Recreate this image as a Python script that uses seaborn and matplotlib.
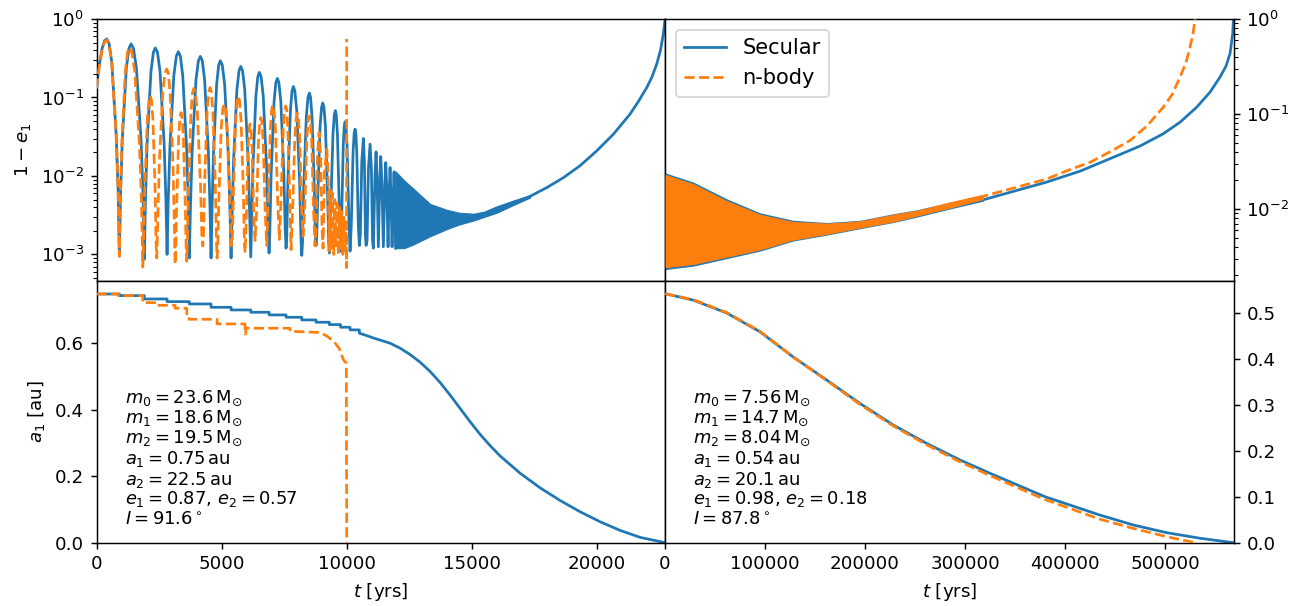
import matplotlib
matplotlib.use("Agg")
import matplotlib.pyplot as plt
import seaborn as sns
import numpy as np

C_SEC = "#1f77b4"
C_NB = "#ff7f0e"
DPI = 131.2

# ---------------- data ----------------
# top-left: 1-e1 vs t, secular run, individual cycles as (t, value)
tl_sec = [
    (0, 0.13), (100, 0.25), (220, 0.42), (320, 0.53), (408, 0.557),
    (499, 0.49), (610, 0.28), (786, 0.033), (862, 0.0067), (912, 0.00095),
    (959, 0.0058), (1029, 0.029), (1193, 0.24), (1296, 0.423), (1380, 0.481),
    (1476, 0.423), (1593, 0.24), (1779, 0.029), (1859, 0.0058), (1912, 0.00087),
    (1956, 0.0051), (2022, 0.026), (2176, 0.214), (2273, 0.377), (2352, 0.428),
    (2436, 0.377), (2539, 0.214), (2703, 0.026), (2773, 0.0051), (2820, 0.0010),
    (2865, 0.0046), (2933, 0.023), (3091, 0.19), (3191, 0.337), (3272, 0.383),
    (3351, 0.337), (3448, 0.19), (3602, 0.023), (3668, 0.0046), (3712, 0.0009),
    (3756, 0.004), (3822, 0.020), (3976, 0.167), (4073, 0.294), (4152, 0.334),
    (4229, 0.294), (4323, 0.167), (4473, 0.020), (4537, 0.004), (4580, 0.0009),
    (4617, 0.0035), (4673, 0.018), (4803, 0.147), (4885, 0.259), (4952, 0.294),
    (5029, 0.259), (5123, 0.147), (5273, 0.018), (5337, 0.0035), (5380, 0.0009),
    (5419, 0.003), (5477, 0.015), (5613, 0.125), (5698, 0.219), (5768, 0.249),
    (5840, 0.219), (5928, 0.125), (6068, 0.015), (6128, 0.003), (6168, 0.00093),
    (6202, 0.0025), (6254, 0.0125), (6374, 0.105), (6450, 0.184), (6512, 0.209),
    (6582, 0.184), (6667, 0.105), (6803, 0.0125), (6861, 0.0025), (6900, 0.00104),
    (6933, 0.0021), (6983, 0.0105), (7099, 0.088), (7172, 0.154), (7232, 0.175),
    (7295, 0.154), (7371, 0.088), (7493, 0.0105), (7545, 0.0021), (7580, 0.0012),
    (7609, 0.0017), (7653, 0.0083), (7755, 0.069), (7819, 0.121), (7872, 0.138),
    (7932, 0.121), (8006, 0.069), (8124, 0.0083), (8174, 0.0017), (8208, 0.00097),
    (8238, 0.0014), (8284, 0.0068), (8390, 0.057), (8457, 0.100), (8512, 0.114),
    (8560, 0.100), (8619, 0.057), (8713, 0.0068), (8753, 0.0017), (8780, 0.0013),
    (8807, 0.0017), (8847, 0.0051), (8941, 0.043), (9000, 0.075), (9048, 0.085),
    (9096, 0.075), (9154, 0.043), (9246, 0.0051), (9286, 0.0014), (9312, 0.00104),
    (9372, 0.0041), (9456, 0.034), (9509, 0.060), (9552, 0.068),
    (9589, 0.060), (9635, 0.034), (9708, 0.0041), (9760, 0.0011),
    (9805, 0.0029), (9868, 0.0245), (9908, 0.043), (9940, 0.049),
    (9976, 0.043), (10020, 0.0245), (10090, 0.0029), (10140, 0.0011),
    (10190, 0.0024), (10260, 0.020), (10304, 0.035), (10340, 0.0395),
    (10371, 0.035), (10409, 0.020), (10469, 0.0024), (10512, 0.0013),
    (10552, 0.0018), (10608, 0.015), (10672, 0.030),
    (10715, 0.015), (10753, 0.0018), (10780, 0.0013),
    (10820, 0.0015), (10876, 0.0127), (10940, 0.0254),
    (10993, 0.0127), (11039, 0.0015), (11072, 0.0012),
    (11137, 0.0101), (11180, 0.0203), (11217, 0.0101), (11272, 0.00125),
    (11330, 0.0088), (11368, 0.0177), (11410, 0.0088), (11472, 0.00125),
    (11530, 0.0074), (11568, 0.0148), (11605, 0.0074), (11660, 0.00125),
    (11708, 0.0064), (11740, 0.0128), (11772, 0.0064), (11820, 0.00125),
    (11868, 0.0056), (11900, 0.0113), (11924, 0.0056), (11960, 0.0012),
]
# dense oscillation band of the secular run (envelopes)
tl_band_t = [11950, 12300, 12672, 13340, 14008, 14500, 15072, 15500, 16008, 16700, 17340]
tl_band_hi = [0.0115, 0.0088, 0.0069, 0.0044, 0.0037, 0.0034, 0.0033, 0.0035, 0.0041, 0.0049, 0.0056]
tl_band_lo = [0.0012, 0.0012, 0.00134, 0.0017, 0.0021, 0.0024, 0.0027, 0.0030, 0.0034, 0.0043, 0.0053]
# smooth tail of the secular run
tl_tail_t = [16700, 17340, 18008, 18672, 19340, 20008, 20672, 21340, 21674, 22008, 22208,
             22408, 22558, 22672, 22740]
tl_tail_v = [0.0046, 0.0055, 0.0071, 0.0095, 0.0135, 0.0209, 0.034, 0.0614, 0.089, 0.134, 0.18,
             0.267, 0.40, 0.645, 1.0]

# top-left: n-body run
tl_nb = [
    (0, 0.13), (100, 0.24), (220, 0.40), (320, 0.51), (408, 0.54),
    (499, 0.475), (610, 0.27), (786, 0.032), (862, 0.0065), (912, 0.00095),
    (952, 0.0052), (1012, 0.026), (1152, 0.218), (1240, 0.383), (1312, 0.435),
    (1408, 0.383), (1526, 0.218), (1714, 0.026), (1794, 0.0052), (1848, 0.00069),
    (1878, 0.0013), (1924, 0.0063), (2030, 0.0525), (2097, 0.092), (2152, 0.105),
    (2198, 0.092), (2254, 0.0525), (2344, 0.0063), (2382, 0.0013), (2408, 0.0009),
    (2448, 0.0028), (2508, 0.0139), (2648, 0.116), (2736, 0.203), (2808, 0.231),
    (2868, 0.203), (2941, 0.116), (3057, 0.0139), (3107, 0.0028), (3140, 0.00075),
    (3164, 0.0010), (3200, 0.0038), (3284, 0.032), (3337, 0.056), (3380, 0.064),
    (3421, 0.056), (3471, 0.032), (3551, 0.0038), (3585, 0.0011), (3608, 0.00082),
    (3636, 0.0016), (3678, 0.0078), (3776, 0.065), (3838, 0.114), (3888, 0.130),
    (3953, 0.114), (4032, 0.065), (4158, 0.0078), (4212, 0.0017), (4248, 0.00128),
    (4277, 0.0017), (4321, 0.008), (4423, 0.067), (4487, 0.118), (4540, 0.134),
    (4590, 0.118), (4652, 0.067), (4750, 0.008), (4792, 0.0016), (4820, 0.0009),
    (4848, 0.0012), (4890, 0.0049), (4988, 0.041), (5050, 0.072), (5100, 0.082),
    (5155, 0.072), (5223, 0.041), (5331, 0.0049), (5377, 0.0017), (5408, 0.00128),
    (5434, 0.0017), (5474, 0.0062), (5566, 0.0515), (5624, 0.091), (5672, 0.103),
    (5720, 0.091), (5779, 0.0515), (5873, 0.0062), (5913, 0.0014), (5940, 0.00105),
    (5990, 0.0028), (6060, 0.023), (6104, 0.040), (6140, 0.046),
    (6176, 0.040), (6220, 0.023), (6290, 0.0028), (6340, 0.0015),
    (6397, 0.0033), (6477, 0.028), (6527, 0.049), (6568, 0.0555),
    (6611, 0.049), (6664, 0.028), (6748, 0.0033), (6808, 0.0013),
    (6868, 0.0048), (6952, 0.040), (7005, 0.070), (7048, 0.080),
    (7096, 0.070), (7154, 0.040), (7246, 0.0048), (7312, 0.00155),
    (7376, 0.0047), (7466, 0.039), (7522, 0.069), (7568, 0.078),
    (7606, 0.069), (7653, 0.039), (7727, 0.0047), (7780, 0.00115),
    (7843, 0.0038), (7931, 0.0315), (7987, 0.055), (8032, 0.063),
    (8073, 0.055), (8123, 0.0315), (8203, 0.0038), (8260, 0.0017),
    (8323, 0.0035), (8411, 0.029), (8467, 0.051), (8512, 0.058),
    (8553, 0.051), (8603, 0.029), (8683, 0.0035), (8740, 0.00128),
    (8780, 0.0021), (8836, 0.018), (8900, 0.0357),
    (8964, 0.018), (9020, 0.0021), (9060, 0.0012),
    (9119, 0.011), (9208, 0.022), (9267, 0.011), (9300, 0.0011),
    (9340, 0.0068), (9390, 0.0012), (9440, 0.006), (9490, 0.0010),
    (9530, 0.005), (9580, 0.0013), (9620, 0.0045), (9670, 0.0010),
    (9710, 0.004), (9760, 0.0012), (9800, 0.0035), (9850, 0.0010),
    (9890, 0.003), (9940, 0.0011), (9970, 0.0025), (10000, 0.00068),
    (10005, 0.557),
]

# top-right: 1-e1 vs t (dense band envelopes, then smooth curves)
tr_band_t = [0, 28300, 61700, 95000, 128300, 161700, 195000, 228300, 251700, 285000, 318300]
tr_sec_hi = [0.0240, 0.0192, 0.0128, 0.0091, 0.0076, 0.0072, 0.0076, 0.0089, 0.0098, 0.0118, 0.0138]
tr_sec_lo = [0.0023, 0.0025, 0.0030, 0.0036, 0.0046, 0.0053, 0.0062, 0.0072, 0.0082, 0.0100, 0.0121]
tr_nb_hi = [0.0232, 0.0185, 0.0123, 0.0088, 0.0074, 0.0071, 0.0075, 0.0088, 0.0097, 0.0119, 0.0143]
tr_nb_lo = [0.0024, 0.0026, 0.0031, 0.0037, 0.0047, 0.0054, 0.0063, 0.0073, 0.0084, 0.0102, 0.0126]
tr_sec_t = [285000, 318300, 381700, 415000, 448300, 475000, 498300, 515000, 531700, 545000,
            555000, 561000, 565000, 567700, 568300]
tr_sec_v = [0.0105, 0.0125, 0.0192, 0.025, 0.035, 0.046, 0.062, 0.082, 0.118, 0.17,
            0.245, 0.32, 0.434, 0.706, 0.977]
tr_nb_t = [285000, 318300, 381700, 405000, 425000, 445000, 465000, 482000, 498300, 507000,
           515000, 521000, 525000, 528000, 530000]
tr_nb_v = [0.0112, 0.0136, 0.0207, 0.026, 0.031, 0.040, 0.0526, 0.075, 0.118, 0.16,
           0.245, 0.35, 0.509, 0.70, 1.0]

# bottom-left: a1 [au] vs t
bl_sec = [
    (0, 0.748), (912, 0.748), (912, 0.743), (1912, 0.743), (1912, 0.733),
    (2820, 0.733), (2820, 0.725), (3712, 0.725), (3712, 0.718),
    (4580, 0.718), (4580, 0.708), (5380, 0.708), (5380, 0.700),
    (6168, 0.700), (6168, 0.693), (6900, 0.693), (6900, 0.685),
    (7580, 0.685), (7580, 0.678), (8208, 0.678), (8208, 0.670),
    (8780, 0.670), (8780, 0.663), (9312, 0.663), (9312, 0.656),
    (9760, 0.656), (9760, 0.648), (10140, 0.648), (10140, 0.640),
    (10512, 0.640), (10512, 0.630), (10800, 0.623), (11100, 0.615),
    (11400, 0.608), (11740, 0.600), (12140, 0.585), (12540, 0.566),
    (12940, 0.543), (13340, 0.515), (13740, 0.482), (14140, 0.444),
    (14540, 0.404), (14940, 0.364), (15340, 0.326), (15740, 0.292),
    (16140, 0.261), (16940, 0.209), (17740, 0.165), (18540, 0.127),
    (19340, 0.093), (20140, 0.063), (20940, 0.037), (21740, 0.016), (22740, 0.0),
]
bl_nb = [
    (0, 0.748), (873, 0.748), (873, 0.743), (1847, 0.743), (1847, 0.722),
    (2408, 0.722), (2408, 0.714), (3140, 0.714), (3140, 0.705),
    (3608, 0.705), (3608, 0.688), (3700, 0.688), (3700, 0.672),
    (4820, 0.672), (4820, 0.658), (5940, 0.658), (5940, 0.628),
    (5970, 0.628), (5970, 0.645), (7740, 0.645), (7740, 0.636),
    (8940, 0.632), (9200, 0.622), (9473, 0.607), (9700, 0.585),
    (9873, 0.550), (9990, 0.540), (10007, 0.0),
]

# bottom-right: a1 [au] vs t
br_sec_t = [0, 28300, 61700, 95000, 128300, 161700, 195000, 228300, 261700, 295000,
            325000, 380000, 435000, 468300, 501700, 535000, 568300]
br_sec_v = [0.542, 0.528, 0.500, 0.459, 0.404, 0.354, 0.303, 0.256, 0.216, 0.180,
            0.151, 0.100, 0.060, 0.0385, 0.0217, 0.0096, 0.0]
br_nb_t = [0, 28300, 61700, 95000, 128300, 161700, 195000, 228300, 261700, 295000,
           325000, 380000, 435000, 468300, 501700, 530000]
br_nb_v = [0.542, 0.529, 0.501, 0.460, 0.404, 0.353, 0.301, 0.254, 0.213, 0.176,
           0.146, 0.094, 0.051, 0.031, 0.013, 0.0]

left_text = [r"$m_0 = 23.6\,\mathrm{M}_{\odot}$", r"$m_1 = 18.6\,\mathrm{M}_{\odot}$",
             r"$m_2 = 19.5\,\mathrm{M}_{\odot}$", r"$a_1 = 0.75\,\mathrm{au}$",
             r"$a_2 = 22.5\,\mathrm{au}$", r"$e_1 = 0.87$, $e_2 = 0.57$",
             r"$I = 91.6^\circ$"]
right_text = [r"$m_0 = 7.56\,\mathrm{M}_{\odot}$", r"$m_1 = 14.7\,\mathrm{M}_{\odot}$",
              r"$m_2 = 8.04\,\mathrm{M}_{\odot}$", r"$a_1 = 0.54\,\mathrm{au}$",
              r"$a_2 = 20.1\,\mathrm{au}$", r"$e_1 = 0.98$, $e_2 = 0.18$",
              r"$I = 87.8^\circ$"]

# ---------------- drawing ----------------
fig, axes = plt.subplots(2, 2, figsize=(1312 / DPI, 606 / DPI), dpi=DPI)
fig.subplots_adjust(left=0.0736, right=0.9402, top=0.9686, bottom=0.1045,
                    wspace=0, hspace=0)
(ax_tl, ax_tr), (ax_bl, ax_br) = axes


def line(ax, t, v, color, ls="-", label=None, z=2):
    sns.lineplot(x=np.asarray(t, float), y=np.asarray(v, float), ax=ax,
                 color=color, linestyle=ls, linewidth=1.5, estimator=None,
                 sort=False, legend=False, label=label, zorder=z)


def pairs(p):
    a = np.asarray(p, float)
    return a[:, 0], a[:, 1]


# top-left
t, v = pairs(tl_sec)
line(ax_tl, t, v, C_SEC, z=2)
ax_tl.fill_between(tl_band_t, tl_band_lo, tl_band_hi, color=C_SEC, lw=0.6, zorder=2)
line(ax_tl, tl_tail_t, tl_tail_v, C_SEC, z=2)
t, v = pairs(tl_nb)
line(ax_tl, t, v, C_NB, ls="--", z=3)
ax_tl.set_yscale("log")
ax_tl.set_ylim(4.6e-4, 1)
ax_tl.set_xlim(0, 22740)
ax_tl.set_ylabel(r"$1-e_1$")

# top-right
ax_tr.fill_between(tr_band_t, tr_sec_lo, tr_sec_hi, color=C_SEC, lw=0, zorder=2)
line(ax_tr, tr_sec_t, tr_sec_v, C_SEC, label="Secular", z=2)
ax_tr.fill_between(tr_band_t, tr_nb_lo, tr_nb_hi, color=C_NB, lw=0, zorder=3)
line(ax_tr, tr_nb_t, tr_nb_v, C_NB, ls="--", label="n-body", z=3)
ax_tr.set_yscale("log")
ax_tr.set_ylim(1.75e-3, 1)
ax_tr.set_xlim(0, 568500)
ax_tr.yaxis.tick_right()
ax_tr.yaxis.set_label_position("right")
ax_tr.legend(loc="upper left", fontsize=11.5)

# bottom-left
t, v = pairs(bl_sec)
line(ax_bl, t, v, C_SEC, z=2)
t, v = pairs(bl_nb)
line(ax_bl, t, v, C_NB, ls="--", z=3)
ax_bl.set_xlim(0, 22740)
ax_bl.set_ylim(0, 0.7875)
ax_bl.set_yticks([0.0, 0.2, 0.4, 0.6])
ax_bl.set_xticks([0, 5000, 10000, 15000, 20000])
ax_bl.set_ylabel(r"$a_1$ [au]")
ax_bl.set_xlabel(r"$t$ [yrs]")

# bottom-right
line(ax_br, br_sec_t, br_sec_v, C_SEC, z=2)
line(ax_br, br_nb_t, br_nb_v, C_NB, ls="--", z=3)
ax_br.set_xlim(0, 568500)
ax_br.set_ylim(0, 0.57)
ax_br.set_yticks([0.0, 0.1, 0.2, 0.3, 0.4, 0.5])
ax_br.set_xticks([0, 100000, 200000, 300000, 400000, 500000])
ax_br.yaxis.tick_right()
ax_br.yaxis.set_label_position("right")
ax_br.set_xlabel(r"$t$ [yrs]")

for ax in (ax_tl, ax_tr):
    ax.tick_params(axis="x", which="both", bottom=False, labelbottom=False)

line_y = [0.550, 0.474, 0.398, 0.318, 0.241, 0.165, 0.087]
for ax, lines in ((ax_bl, left_text), (ax_br, right_text)):
    for s, yy in zip(lines, line_y):
        ax.text(0.05, yy, s, transform=ax.transAxes, fontsize=9.8,
                ha="left", va="center")

fig.savefig("out.png", dpi=DPI)
